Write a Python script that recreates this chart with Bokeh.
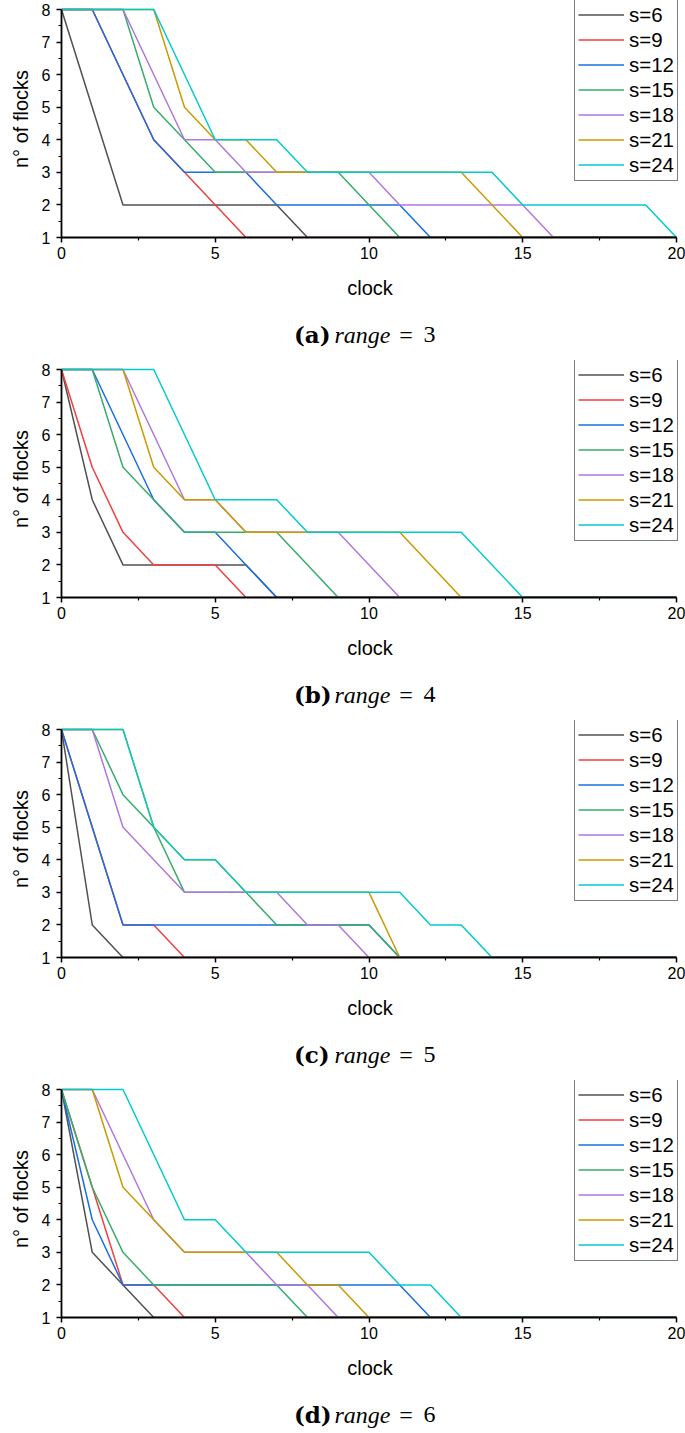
from bokeh.plotting import figure
from bokeh.models import Range1d, FixedTicker, Label
from bokeh.layouts import column
from bokeh.embed import file_html
from bokeh.resources import INLINE

# ---------------- data (breakpoints of each polyline: clock, n° of flocks) ----------------
SERIES = ["s=6", "s=9", "s=12", "s=15", "s=18", "s=21", "s=24"]
COLORS = ["#515151", "#F14040", "#1A6FDF", "#37AD6B", "#B177DE", "#CC9900", "#00CBCC"]
X_TICKS = [0, 5, 10, 15, 20]
X_MINOR = [2.5, 7.5, 12.5, 17.5]
Y_TICKS = [1, 2, 3, 4, 5, 6, 7, 8]
Y_MINOR = [1.5, 2.5, 3.5, 4.5, 5.5, 6.5, 7.5]

# range = 3
R3_S6 = ([0, 2, 7, 8, 20], [8, 2, 2, 1, 1])
R3_S9 = ([0, 1, 3, 4, 6, 20], [8, 8, 4, 3, 1, 1])
R3_S12 = ([0, 1, 3, 4, 6, 7, 11, 12, 20], [8, 8, 4, 3, 3, 2, 2, 1, 1])
R3_S15 = ([0, 2, 3, 4, 5, 9, 11, 20], [8, 8, 5, 4, 3, 3, 1, 1])
R3_S18 = ([0, 2, 4, 5, 6, 10, 11, 15, 16, 20], [8, 8, 4, 4, 3, 3, 2, 2, 1, 1])
R3_S21 = ([0, 3, 4, 5, 6, 7, 13, 15, 20], [8, 8, 5, 4, 4, 3, 3, 1, 1])
R3_S24 = ([0, 3, 5, 7, 8, 14, 15, 19, 20], [8, 8, 4, 4, 3, 3, 2, 2, 1])

# range = 4
R4_S6 = ([0, 1, 2, 6, 7, 20], [8, 4, 2, 2, 1, 1])
R4_S9 = ([0, 1, 2, 3, 5, 6, 20], [8, 5, 3, 2, 2, 1, 1])
R4_S12 = ([0, 1, 3, 4, 5, 6, 7, 20], [8, 8, 4, 3, 3, 2, 1, 1])
R4_S15 = ([0, 1, 2, 3, 4, 7, 9, 20], [8, 8, 5, 4, 3, 3, 1, 1])
R4_S18 = ([0, 2, 4, 5, 6, 9, 11, 20], [8, 8, 4, 4, 3, 3, 1, 1])
R4_S21 = ([0, 2, 3, 4, 5, 6, 11, 13, 20], [8, 8, 5, 4, 4, 3, 3, 1, 1])
R4_S24 = ([0, 3, 5, 7, 8, 13, 15, 20], [8, 8, 4, 4, 3, 3, 1, 1])

# range = 5
R5_S6 = ([0, 1, 2, 20], [8, 2, 1, 1])
R5_S9 = ([0, 2, 3, 4, 20], [8, 2, 2, 1, 1])
R5_S12 = ([0, 2, 10, 11, 20], [8, 2, 2, 1, 1])
R5_S15 = ([0, 1, 2, 3, 4, 6, 7, 10, 11, 20], [8, 8, 6, 5, 3, 3, 2, 2, 1, 1])
R5_S18 = ([0, 1, 2, 4, 7, 8, 9, 10, 20], [8, 8, 5, 3, 3, 2, 2, 1, 1])
R5_S21 = ([0, 2, 3, 4, 5, 6, 10, 11, 20], [8, 8, 5, 4, 4, 3, 3, 1, 1])
R5_S24 = ([0, 2, 3, 4, 5, 6, 11, 12, 13, 14, 20], [8, 8, 5, 4, 4, 3, 3, 2, 2, 1, 1])

# range = 6
R6_S6 = ([0, 1, 2, 3, 20], [8, 3, 2, 1, 1])
R6_S9 = ([0, 1, 2, 3, 4, 20], [8, 5, 2, 2, 1, 1])
R6_S12 = ([0, 1, 2, 11, 12, 20], [8, 4, 2, 2, 1, 1])
R6_S15 = ([0, 1, 2, 3, 7, 8, 20], [8, 5, 3, 2, 2, 1, 1])
R6_S18 = ([0, 1, 3, 4, 6, 7, 8, 9, 20], [8, 8, 4, 3, 3, 2, 2, 1, 1])
R6_S21 = ([0, 1, 2, 3, 4, 7, 8, 9, 10, 20], [8, 8, 5, 4, 3, 3, 2, 2, 1, 1])
R6_S24 = ([0, 2, 4, 5, 6, 10, 11, 12, 13, 20], [8, 8, 4, 4, 3, 3, 2, 2, 1, 1])

PANEL_LETTERS = ["(a)", "(b)", "(c)", "(d)"]
PANEL_RANGES = ["3", "4", "5", "6"]
PANEL_DATA = [
    [R3_S6, R3_S9, R3_S12, R3_S15, R3_S18, R3_S21, R3_S24],
    [R4_S6, R4_S9, R4_S12, R4_S15, R4_S18, R4_S21, R4_S24],
    [R5_S6, R5_S9, R5_S12, R5_S15, R5_S18, R5_S21, R5_S24],
    [R6_S6, R6_S9, R6_S12, R6_S15, R6_S18, R6_S21, R6_S24],
]

# ---------------- layout constants ----------------
X_LO, X_HI, Y_LO, Y_HI = 0, 20, 1, 8
AXIS_W, AXIS_H = 615, 228          # pixel size of the 0..20 x 1..8 box
PAD_TOP, PAD_RIGHT = 9, 2          # extra frame room so the legend is not clipped
FRAME_W, FRAME_H = AXIS_W + PAD_RIGHT, AXIS_H + PAD_TOP
BORDER_L, BORDER_B = 61, 75
CANVAS_W = 685
BORDER_R = CANVAS_W - BORDER_L - FRAME_W
SANS = "Liberation Sans"


def make_panel(idx):
    x_end = X_HI + PAD_RIGHT * (X_HI - X_LO) / AXIS_W
    y_end = Y_HI + PAD_TOP * (Y_HI - Y_LO) / AXIS_H
    p = figure(
        frame_width=FRAME_W, frame_height=FRAME_H,
        min_border_left=BORDER_L, min_border_right=BORDER_R,
        min_border_top=0, min_border_bottom=BORDER_B,
        x_range=Range1d(X_LO, x_end), y_range=Range1d(Y_LO, y_end),
        output_backend="svg", toolbar_location=None,
    )
    p.outline_line_color = None
    p.grid.visible = False

    for (xs, ys), name, col in zip(PANEL_DATA[idx], SERIES, COLORS):
        p.line(xs, ys, line_color=col, line_width=1.5, legend_label=name)

    p.xaxis.ticker = FixedTicker(ticks=X_TICKS, minor_ticks=X_MINOR)
    p.yaxis.ticker = FixedTicker(ticks=Y_TICKS, minor_ticks=Y_MINOR)
    p.xaxis.bounds = (X_LO, X_HI)
    p.yaxis.bounds = (Y_LO, Y_HI)
    p.xaxis.axis_label = "clock"
    p.yaxis.axis_label = "n° of flocks"
    for ax in (p.xaxis, p.yaxis):
        ax.axis_line_color = "black"
        ax.axis_line_width = 1.8
        ax.major_tick_line_color = "black"
        ax.major_tick_line_width = 1.5
        ax.minor_tick_line_color = "black"
        ax.minor_tick_line_width = 1.2
        ax.major_tick_in = 0
        ax.major_tick_out = 5
        ax.minor_tick_in = 0
        ax.minor_tick_out = 3
        ax.major_label_text_font = SANS
        ax.major_label_text_font_size = "16px"
        ax.major_label_text_color = "black"
        ax.axis_label_text_font = SANS
        ax.axis_label_text_font_size = "20px"
        ax.axis_label_text_font_style = "normal"
        ax.axis_label_text_color = "black"
    p.xaxis.major_label_standoff = 4
    p.xaxis.axis_label_standoff = 15
    p.yaxis.major_label_standoff = 6
    p.yaxis.axis_label_standoff = 7

    lg = p.legend[0]
    lg.location = (513, 56)
    lg.border_line_color = "black"
    lg.border_line_width = 1.5
    lg.background_fill_color = "white"
    lg.background_fill_alpha = 1.0
    lg.padding = 3
    lg.spacing = 0
    lg.margin = 0
    lg.glyph_width = 46
    lg.glyph_height = 25
    lg.label_height = 25
    lg.label_standoff = 5
    lg.label_text_font = SANS
    lg.label_text_font_size = "20.5px"
    lg.label_text_color = "black"
    return p


def make_caption(idx, height, center_from_top):
    c = figure(
        width=CANVAS_W, height=height,
        x_range=Range1d(0, CANVAS_W), y_range=Range1d(0, height),
        x_axis_type=None, y_axis_type=None,
        min_border=0, min_border_left=0, min_border_right=0,
        min_border_top=0, min_border_bottom=0,
        output_backend="svg", toolbar_location=None,
    )
    c.outline_line_color = None
    c.grid.visible = False
    yc = height - center_from_top
    parts = [
        (PANEL_LETTERS[idx], 258, "DejaVu Serif", "bold", "23px"),
        ("range", 303, "Liberation Serif", "italic", "24px"),
        ("=", 375, "Liberation Serif", "normal", "24px"),
        (PANEL_RANGES[idx], 402, "Liberation Serif", "normal", "24px"),
    ]
    for txt, xpos, font, style, size in parts:
        c.add_layout(Label(
            x=xpos, y=yc, text=txt, text_font=font, text_font_style=style,
            text_font_size=size, text_color="black",
            text_align="left", text_baseline="middle",
        ))
    return c


children = []
for i in range(4):
    children.append(make_panel(i))
    children.append(make_caption(i, 48 if i < 3 else 41, 22))

layout = column(*children, spacing=0)

open("out.html", "w").write(file_html(layout, INLINE))
